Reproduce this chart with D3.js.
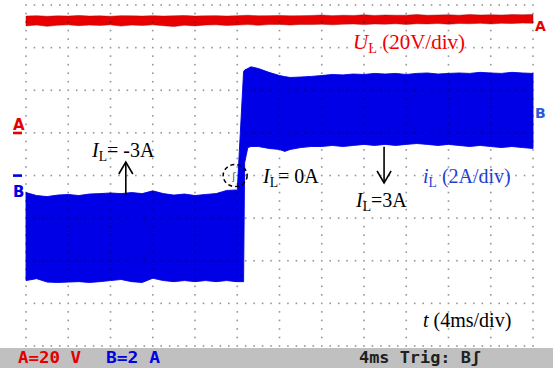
<!DOCTYPE html>
<html>
<head>
<meta charset="utf-8">
<script src="https://cdn.jsdelivr.net/npm/d3@7/dist/d3.min.js"></script>
<style>
  html, body { margin: 0; padding: 0; background: #fff; }
  svg { display: block; }
</style>
</head>
<body>
<svg id="scope" width="553" height="368"></svg>
<script>
// Screen divisions: 12 horizontal (4 ms each), 8 vertical
const timeDivs = [0, 4, 8, 12, 16, 20, 24, 28, 32, 36, 40, 44, 48];      // ms
const currentDivs = [-8, -6, -4, -2, 0, 2, 4, 6, 8];                     // A (2 A/div)

// Channel A: load voltage U_L envelope (V)
const redTime = [0,1,2,3,4,5,6,7,8,9,10,11,12,13,14,15,16,17,18,19,20,21,22,23,24,
                 25,26,27,28,29,30,31,32,33,34,35,36,37,38,39,40,41,42,43,44,45,46,47,48];
const redTop = [54.8,55.0,54.7,54.9,54.8,55.1,54.8,54.9,54.7,55.0,54.9,54.8,55.0,54.8,54.9,55.1,
                54.8,54.9,55.0,54.8,55.0,55.2,54.9,55.0,55.1,54.9,55.0,55.1,55.3,55.0,55.2,55.1,
                55.4,55.1,55.3,55.2,55.2,55.5,55.2,55.3,55.4,55.2,55.5,55.3,55.4,55.3,55.5,55.4,55.6];
const redBottom = [50.2,50.6,50.0,50.5,50.7,50.3,50.6,50.4,50.7,50.1,50.6,50.4,50.7,50.3,49.9,50.5,
                   50.2,50.6,50.7,50.4,50.6,50.8,50.5,50.8,50.9,50.6,50.9,50.8,51.0,50.7,51.0,51.1,
                   50.8,51.1,51.0,51.2,50.9,51.2,51.1,51.3,51.0,51.3,51.2,51.4,51.1,51.4,51.3,51.5,51.4];

// Channel B: inductor current i_L ripple envelope (A), step from -3 A to 3 A at 20 ms
const blueTime = [0,1,2,3,4,5,6,7,8,9,10,11,12,13,14,15,16,17,18,19,
                  19.9,20,20.6,20.7,21,21.3,22,23,24,24.5,
                  25,26,27,28,29,30,31,32,33,34,35,36,37,38,39,40,41,42,43,44,45,46,47,48];
const blueTop = [-0.80,-0.94,-0.99,-0.92,-0.89,-0.94,-0.87,-0.85,-0.82,-0.85,-0.80,-0.85,-0.72,-0.85,
                 -0.92,-0.87,-0.94,-0.89,-0.85,-0.70,
                 -0.68,-0.70,4.88,4.95,5.02,5.10,5.02,4.84,4.69,4.64,
                 4.60,4.62,4.65,4.69,4.74,4.72,4.76,4.74,4.79,4.76,4.79,4.74,4.79,4.81,4.76,4.79,
                 4.81,4.79,4.84,4.81,4.79,4.84,4.81,4.79];
const blueBottom = [-4.93,-4.84,-5.00,-5.02,-5.00,-4.98,-5.02,-4.98,-4.93,-4.88,-4.98,-5.02,-4.82,-4.93,
                    -4.98,-4.93,-4.98,-4.93,-4.98,-4.93,
                    -4.98,-4.98,-4.98,0.60,1.31,1.36,1.36,1.27,1.22,1.13,
                    1.22,1.31,1.36,1.36,1.41,1.36,1.41,1.46,1.41,1.46,1.41,1.46,1.50,1.46,1.41,1.46,
                    1.41,1.36,1.41,1.36,1.31,1.36,1.31,1.27];

// Status bar texts
const statusA = "A=20 V";
const statusB = "B=2 A";
const statusTime = "4ms Trig: B\u0283";

const svg = d3.select("#scope");

const x = d3.scaleLinear().domain([0, 48]).range([26, 533]);
const yI = d3.scaleLinear().domain([-8, 8]).range([346, 5]);      // B: 2 A/div
const yU = d3.scaleLinear().domain([-100, 60]).range([346, 5]);   // A: 20 V/div

const RED = "#e80000", BLUE = "#0000e6";

// ---- traces ----
const redArea = d3.area()
  .x((d, i) => x(redTime[i]))
  .y0((d, i) => yU(redBottom[i]))
  .y1((d, i) => yU(redTop[i]));
svg.append("path")
  .attr("d", redArea(redTime))
  .attr("fill", RED)
  .attr("stroke", "#a01010")
  .attr("stroke-opacity", 0.55)
  .attr("stroke-width", 0.9);

const blueArea = d3.area()
  .x((d, i) => x(blueTime[i]))
  .y0((d, i) => yI(blueBottom[i]))
  .y1((d, i) => yI(blueTop[i]));
svg.append("path")
  .attr("d", blueArea(blueTime))
  .attr("fill", BLUE)
  .attr("stroke", BLUE)
  .attr("stroke-width", 0.9);

// ---- dotted graticule (drawn over the traces) ----
const grid = svg.append("g").attr("fill", "#000").attr("fill-opacity", 0.42);
const minorT = d3.range(0, 48.0001, 0.8);
const minorI = d3.range(-8, 8.0001, 0.4);
currentDivs.forEach(v => {
  minorT.forEach(t => {
    grid.append("rect").attr("x", x(t) - 0.8).attr("y", yI(v) - 0.8).attr("width", 1.6).attr("height", 1.6);
  });
});
timeDivs.forEach(t => {
  minorI.forEach(v => {
    if (currentDivs.includes(+v.toFixed(1))) return;
    grid.append("rect").attr("x", x(t) - 0.8).attr("y", yI(v) - 0.8).attr("width", 1.6).attr("height", 1.6);
  });
});

// ---- channel level markers ----
const mk = svg.append("g").attr("font-family", "DejaVu Sans, sans-serif").attr("font-weight", "bold");
mk.append("text").attr("x", 13).attr("y", yU(0) - 3).attr("font-size", 15).attr("fill", RED).text("A");
mk.append("rect").attr("x", 13).attr("y", yU(0) - 1.2).attr("width", 9).attr("height", 2.6).attr("fill", RED);
mk.append("rect").attr("x", 13).attr("y", yI(0) - 1.2).attr("width", 9).attr("height", 2.6).attr("fill", BLUE);
mk.append("text").attr("x", 13).attr("y", yI(0) + 21).attr("font-size", 15).attr("fill", BLUE).text("B");

const nR = redTime.length - 1, nB = blueTime.length - 1;
mk.append("text").attr("x", 535).attr("y", yU((redTop[nR] + redBottom[nR]) / 2) + 12)
  .attr("font-size", 14).attr("fill", RED).text("A");
mk.append("text").attr("x", 535).attr("y", yI((blueTop[nB] + blueBottom[nB]) / 2) + 7)
  .attr("font-size", 14).attr("fill", "#2a5ad8").text("B");

// ---- annotations ----
const ann = svg.append("g").attr("font-family", "Liberation Serif, Times New Roman, serif");

function subLabel(px, py, main, sub, rest, color, size) {
  const t = ann.append("text").attr("x", px).attr("y", py).attr("font-size", size).attr("fill", color);
  t.append("tspan").attr("font-style", "italic").text(main);
  t.append("tspan").attr("font-size", size * 0.68).attr("dy", 4).text(sub);
  t.append("tspan").attr("dy", -4).text(rest);
  return t;
}

subLabel(353, 49, "U", "L", "\u00a0(20V/div)", "#f00000", 21);
subLabel(92, 157, "I", "L", "= -3A", "#000", 20);
subLabel(263, 183, "I", "L", "= 0A", "#000", 20);
subLabel(356, 207, "I", "L", "=3A", "#000", 20);
subLabel(423, 183, "i", "L", "\u00a0(2A/div)", "#1e3fd2", 20);
{
  const t = ann.append("text").attr("x", 423).attr("y", 327).attr("font-size", 20).attr("fill", "#000");
  t.append("tspan").attr("font-style", "italic").text("t");
  t.append("tspan").text("\u00a0(4ms/div)");
}

// arrows
function arrow(xp, yFrom, yTo) {
  const dir = yTo < yFrom ? 1 : -1;
  const g = svg.append("g").attr("stroke", "#000").attr("stroke-width", 1.6).attr("fill", "none");
  g.append("line").attr("x1", xp).attr("y1", yFrom).attr("x2", xp).attr("y2", yTo);
  g.append("path").attr("d", `M${xp - 7},${yTo + dir * 12} L${xp},${yTo} L${xp + 7},${yTo + dir * 12}`);
}
arrow(x(9.45), yI(-0.9), 162);
arrow(x(33.9), yI(1.35), 183);

// trigger point ring
svg.append("ellipse")
  .attr("cx", x(19.8)).attr("cy", yI(0))
  .attr("rx", 12).attr("ry", 11)
  .attr("fill", "none").attr("stroke", "#000")
  .attr("stroke-width", 1.5).attr("stroke-dasharray", "4,3");
svg.append("text").attr("x", x(19.8) - 3).attr("y", yI(0) + 4)
  .attr("font-family", "DejaVu Sans, sans-serif").attr("font-size", 10)
  .attr("fill", "#555").text("\u0283");

// ---- status bar ----
svg.append("rect").attr("x", 0).attr("y", 348).attr("width", 553).attr("height", 20).attr("fill", "#c0c0c0");
const sb = svg.append("g")
  .attr("font-family", "DejaVu Sans Mono, monospace")
  .attr("font-weight", "bold").attr("font-size", 16);
sb.append("text").attr("x", 18).attr("y", 363).attr("fill", "#e00000")
  .attr("textLength", 63).attr("lengthAdjust", "spacingAndGlyphs").text(statusA);
sb.append("text").attr("x", 106).attr("y", 363).attr("fill", "#0000e0")
  .attr("textLength", 54).attr("lengthAdjust", "spacingAndGlyphs").text(statusB);
sb.append("text").attr("x", 359).attr("y", 363).attr("fill", "#202020")
  .attr("textLength", 122).attr("lengthAdjust", "spacingAndGlyphs").text(statusTime);
</script>
</body>
</html>
